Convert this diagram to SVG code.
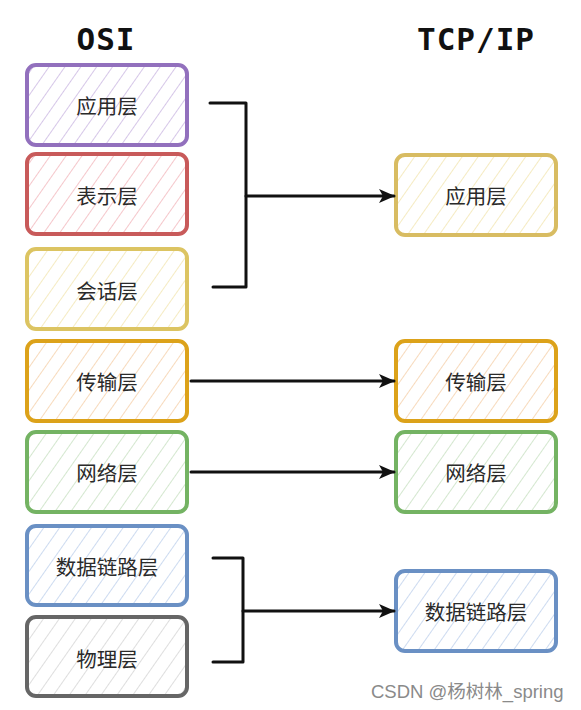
<svg xmlns="http://www.w3.org/2000/svg" width="581" height="710" viewBox="0 0 581 710">
<style>
.box{stroke-width:4;stroke-linejoin:round}
.lbl{font-family:"Noto Sans CJK SC","Noto Sans",sans-serif;font-size:20.5px;fill:#2a2a2a;text-anchor:middle;dominant-baseline:central}
.title{font-family:"DejaVu Sans Mono",monospace;font-weight:bold;font-size:31px;fill:#111;text-anchor:middle;letter-spacing:1px}
.conn{stroke:#111;stroke-width:3;fill:none;stroke-linecap:round;stroke-linejoin:round}
.wm{font-family:"Liberation Sans","Noto Sans CJK SC",sans-serif;font-size:18.5px;fill:#8a8a8a}
</style>
<defs>
<pattern id="hP" width="13" height="13" patternUnits="userSpaceOnUse" patternTransform="rotate(35)"><line x1="0" y1="0" x2="0" y2="13" stroke="#bfa9dc" stroke-width="1.3"/></pattern>
<pattern id="hR" width="13" height="13" patternUnits="userSpaceOnUse" patternTransform="rotate(35)"><line x1="0" y1="0" x2="0" y2="13" stroke="#f0a8ae" stroke-width="1.3"/></pattern>
<pattern id="hY" width="13" height="13" patternUnits="userSpaceOnUse" patternTransform="rotate(35)"><line x1="0" y1="0" x2="0" y2="13" stroke="#efe0a0" stroke-width="1.3"/></pattern>
<pattern id="hO" width="13" height="13" patternUnits="userSpaceOnUse" patternTransform="rotate(35)"><line x1="0" y1="0" x2="0" y2="13" stroke="#f3c698" stroke-width="1.3"/></pattern>
<pattern id="hG" width="13" height="13" patternUnits="userSpaceOnUse" patternTransform="rotate(35)"><line x1="0" y1="0" x2="0" y2="13" stroke="#bcdab5" stroke-width="1.3"/></pattern>
<pattern id="hB" width="13" height="13" patternUnits="userSpaceOnUse" patternTransform="rotate(35)"><line x1="0" y1="0" x2="0" y2="13" stroke="#b2c8e8" stroke-width="1.3"/></pattern>
<pattern id="hK" width="13" height="13" patternUnits="userSpaceOnUse" patternTransform="rotate(35)"><line x1="0" y1="0" x2="0" y2="13" stroke="#cccccc" stroke-width="1.3"/></pattern>
<marker id="arr" viewBox="0 0 16 14" refX="15" refY="7" markerWidth="16" markerHeight="14" markerUnits="userSpaceOnUse" orient="auto"><path d="M0,0 L16,7 L0,14 L4,7 Z" fill="#111"/></marker>
</defs>
<rect width="581" height="710" fill="#fff"/>
<text class="title" x="106" y="50">OSI</text>
<text class="title" x="476" y="50">TCP/IP</text>

<g id="osi-app"><rect class="box" x="27" y="65" width="160" height="80" rx="9" fill="url(#hP)" stroke="#9270bd"/><text class="lbl" x="107" y="105">应用层</text></g>
<g id="osi-pres"><rect class="box" x="27" y="154" width="160" height="80" rx="9" fill="url(#hR)" stroke="#c85a5a"/><text class="lbl" x="107" y="195">表示层</text></g>
<g id="osi-sess"><rect class="box" x="27" y="249" width="160" height="80" rx="9" fill="url(#hY)" stroke="#dcc462"/><text class="lbl" x="107" y="290">会话层</text></g>
<g id="osi-trans"><rect class="box" x="27" y="341" width="160" height="80" rx="9" fill="url(#hO)" stroke="#dca21a"/><text class="lbl" x="107" y="381">传输层</text></g>
<g id="osi-net"><rect class="box" x="27" y="432" width="160" height="80" rx="9" fill="url(#hG)" stroke="#74b363"/><text class="lbl" x="107" y="472">网络层</text></g>
<g id="osi-link"><rect class="box" x="27" y="526" width="160" height="79" rx="9" fill="url(#hB)" stroke="#6a90c4"/><text class="lbl" x="107" y="566">数据链路层</text></g>
<g id="osi-phys"><rect class="box" x="27" y="617" width="160" height="79" rx="9" fill="url(#hK)" stroke="#666"/><text class="lbl" x="107" y="658">物理层</text></g>

<g id="tcp-app"><rect class="box" x="396" y="155" width="160" height="80" rx="9" fill="url(#hY)" stroke="#d8bc62"/><text class="lbl" x="476" y="195">应用层</text></g>
<g id="tcp-trans"><rect class="box" x="396" y="341" width="160" height="80" rx="9" fill="url(#hO)" stroke="#dca21a"/><text class="lbl" x="476" y="381">传输层</text></g>
<g id="tcp-net"><rect class="box" x="396" y="432" width="160" height="80" rx="9" fill="url(#hG)" stroke="#74b363"/><text class="lbl" x="476" y="472">网络层</text></g>
<g id="tcp-link"><rect class="box" x="396" y="571" width="160" height="80" rx="9" fill="url(#hB)" stroke="#6a90c4"/><text class="lbl" x="476" y="611">数据链路层</text></g>

<g id="connectors">
<path class="conn" d="M210,103 H246 V287 H213"/>
<path class="conn" d="M246,196 H394" marker-end="url(#arr)"/>
<path class="conn" d="M191,381 H394" marker-end="url(#arr)"/>
<path class="conn" d="M191,472 H394" marker-end="url(#arr)"/>
<path class="conn" d="M213,558 H243 V662 H213"/>
<path class="conn" d="M243,611 H394" marker-end="url(#arr)"/>
</g>
<text class="wm" x="371" y="698">CSDN @杨树林_spring</text>
</svg>
